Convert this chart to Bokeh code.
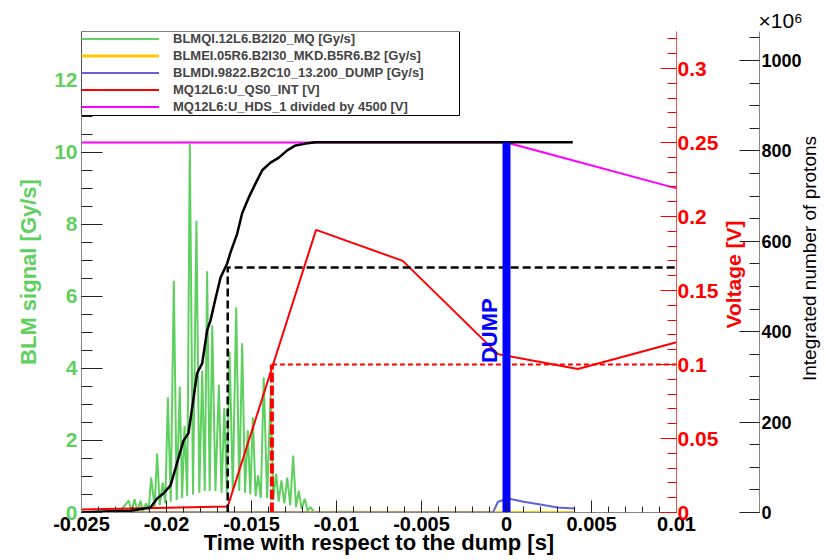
import numpy as np
from math import pi
from bokeh.plotting import figure
from bokeh.models import (Range1d, LinearAxis, FixedTicker, PrintfTickFormatter,
                          Legend, LegendItem, Label, Title, BoxAnnotation)
from bokeh.embed import file_html
from bokeh.resources import INLINE

# ---------------- data ----------------
blmqi_t = [-0.0250, -0.0228, -0.02222, -0.02205, -0.02188, -0.0217, -0.02153, -0.0214,
           -0.0212, -0.02105, -0.0209, -0.0207, -0.02055, -0.0204, -0.02022, -0.02007,
           -0.01992, -0.01975, -0.01957, -0.0194, -0.01922, -0.01908, -0.01894, -0.01878,
           -0.01863, -0.01844, -0.01824, -0.01807, -0.0179, -0.01775, -0.01761, -0.01746,
           -0.01731, -0.01712, -0.01692, -0.01676, -0.0166, -0.01645, -0.01629, -0.0161,
           -0.0159, -0.01572, -0.01555, -0.01538, -0.01522, -0.01507, -0.01492, -0.01476,
           -0.01461, -0.01445, -0.01428, -0.01408, -0.01388, -0.01372, -0.01355, -0.0134,
           -0.01324, -0.01307, -0.0129, -0.01272, -0.01255, -0.01238, -0.01222, -0.01205,
           -0.01187, -0.0117, -0.01153, -0.0113, -0.0100, 0.004]
blmqi_v = [0.0, 0.0, 0.33, 0.02, 0.37, 0.03, 0.33, 0.05,
           0.25, 0.08, 0.97, 0.15, 1.64, 0.2, 0.83, 0.25,
           3.2, 0.3, 6.44, 0.35, 3.5, 0.4, 2.4, 0.45,
           10.25, 0.5, 8.1, 0.55, 3.94, 0.6, 6.7, 0.6,
           5.2, 0.6, 3.55, 0.55, 2.9, 0.55, 4.47, 0.6,
           5.7, 0.6, 4.7, 0.55, 2.28, 0.5, 2.64, 0.45,
           1.03, 0.4, 3.75, 0.4, 3.25, 0.35, 1.08, 0.3,
           0.89, 0.25, 0.97, 0.2, 1.58, 0.15, 0.6, 0.1,
           0.38, 0.05, 0.15, 0.0, 0.02, 0.0]

blmei_t = [-0.025, 0.004]
blmei_v = [0.0, 0.0]

blmdi_t = [-0.025, -0.0008, -0.0005, 0.0001, 0.001, 0.002, 0.003, 0.004]
blmdi_v = [0.0, 0.0, 0.30, 0.39, 0.30, 0.22, 0.14, 0.11]

qs0_t = [-0.025, -0.0164, -0.0112, -0.0061, -0.0005, 0.0042, 0.010]
qs0_v = [0.002, 0.004, 0.191, 0.170, 0.107, 0.097, 0.115]

hds_t = [-0.025, 0.0, 0.010]
hds_v = [0.25, 0.25, 0.219]

protons_t = [-0.025, -0.02329, -0.02212, -0.02094, -0.02055, -0.02018, -0.01976,
             -0.01937, -0.019, -0.01871, -0.01849, -0.0182, -0.0179, -0.01761,
             -0.01741, -0.01712, -0.01682, -0.01643, -0.01624, -0.01584, -0.01555,
             -0.01516, -0.01476, -0.01437, -0.01388, -0.01339, -0.0129, -0.01241,
             -0.01182, -0.01124, 0.0039]
protons_n = [0, 3, 4, 11, 31, 42, 60, 111, 159, 175, 232, 308, 330, 403, 425, 473,
             520, 551, 575, 617, 662, 697, 728, 757, 774, 785, 801, 812, 816, 819, 819]

mark_t = -0.0164          # time of the black dashed marker
mark_n = 542              # protons (x1e6) at the marker
volt_mark_t = -0.0138     # time of the red dashed marker
volt_mark_v = 0.1
dump_t = 0.0
dump_top_v = 0.25
dump_text_v = 0.101

x_ticks = [-0.025, -0.02, -0.015, -0.01, -0.005, 0.0, 0.005, 0.01]
blm_ticks = [0, 2, 4, 6, 8, 10, 12]
volt_ticks = [0, 0.05, 0.1, 0.15, 0.2, 0.25, 0.3]
prot_ticks = [0, 200, 400, 600, 800, 1000]

labels = ["BLMQI.12L6.B2I20_MQ [Gy/s]",
          "BLMEI.05R6.B2I30_MKD.B5R6.B2 [Gy/s]",
          "BLMDI.9822.B2C10_13.200_DUMP [Gy/s]",
          "MQ12L6:U_QS0_INT [V]",
          "MQ12L6:U_HDS_1 divided by 4500 [V]"]

# ---------------- styling ----------------
FONT = "Liberation Sans"
GREEN = "#5fd05f"
YELLOW = "#ffc800"
SLATE = "#6262da"
RED = "#ff0000"
MAGENTA = "#ff00ff"

p = figure(width=826, height=560, x_range=Range1d(-0.025, 0.01), y_range=Range1d(0, 13.36),
           output_backend="svg", toolbar_location=None,
           min_border_left=81, min_border_right=150, min_border_top=31, min_border_bottom=48)
p.extra_y_ranges = {"volt": Range1d(0, 0.325), "prot": Range1d(0, 1064)}
p.xgrid.visible = False
p.ygrid.visible = False
p.outline_line_color = None
p.background_fill_color = "white"
p.border_fill_color = "white"

def style(ax, color, line_color, tick_color, tin, tmin, fsize):
    ax.major_tick_in = tin
    ax.major_tick_out = 0
    ax.minor_tick_in = tmin
    ax.minor_tick_out = 0
    ax.axis_line_color = line_color
    ax.major_tick_line_color = tick_color
    ax.minor_tick_line_color = tick_color
    ax.major_label_text_color = color
    ax.major_label_text_font = FONT
    ax.major_label_text_font_style = "bold"
    ax.major_label_text_font_size = fsize
    ax.axis_label_text_font = FONT
    ax.axis_label_text_font_style = "bold"
    ax.axis_label_text_color = color
    ax.formatter = PrintfTickFormatter(format="%g")

def spacer_axis(range_name, tick_value, gap):
    """Invisible axis that only reserves a gap between two right-hand axes."""
    return LinearAxis(y_range_name=range_name, ticker=FixedTicker(ticks=[tick_value]),
                      major_label_overrides={tick_value: ""}, axis_line_color=None,
                      major_tick_out=gap, major_tick_in=0, minor_tick_out=0,
                      minor_tick_in=0, major_tick_line_color=None,
                      minor_tick_line_color=None, major_label_standoff=0)

xa = p.xaxis[0]
xa.ticker = FixedTicker(ticks=x_ticks, minor_ticks=list(np.round(np.arange(-0.025, 0.0101, 0.001), 4)))
style(xa, "black", "#888888", "#222222", 12, 6, "20px")
xa.major_label_standoff = 4
xa.axis_label = "Time with respect to the dump [s]"
xa.axis_label_text_font_size = "22px"
xa.axis_label_standoff = -4

ya = p.yaxis[0]
ya.ticker = FixedTicker(ticks=blm_ticks, minor_ticks=list(np.arange(0, 13.36, 0.5)))
style(ya, GREEN, "#888888", "#222222", 21, 11, "21px")
ya.major_label_standoff = 4
ya.axis_label = "BLM signal [Gy/s]"
ya.axis_label_text_font_size = "22px"
ya.axis_label_standoff = 10

va = LinearAxis(y_range_name="volt")
va.ticker = FixedTicker(ticks=volt_ticks, minor_ticks=list(np.round(np.arange(0, 0.325, 0.01), 3)))
style(va, RED, "#ff5050", RED, 16, 9, "21px")
va.major_label_standoff = 1
p.add_layout(va, "right")

# rotated titles of the right-hand axes, laid out in their own side slots
volt_title = Label(x=12, y=238, x_units="screen", y_units="screen", text="Voltage [V]",
                   angle=pi / 2, text_align="center", text_baseline="middle",
                   text_color=RED, text_font=FONT, text_font_style="bold",
                   text_font_size="21px")
p.add_layout(volt_title, "right")
p.add_layout(spacer_axis("volt", 0, 15), "right")

pa = LinearAxis(y_range_name="prot")
pa.ticker = FixedTicker(ticks=prot_ticks, minor_ticks=list(np.arange(0, 1064, 50)))
style(pa, "black", "#888888", "#222222", 20, 10, "18px")
pa.major_label_standoff = 2
p.add_layout(pa, "right")

prot_title = Label(x=5, y=254, x_units="screen", y_units="screen",
                   text="Integrated number of protons", angle=pi / 2,
                   text_align="center", text_baseline="middle", text_color="black",
                   text_font=FONT, text_font_style="normal", text_font_size="19px")
p.add_layout(prot_title, "right")

# exponent of the proton axis
p.add_layout(Title(text="×10⁶", align="left", offset=677, standoff=0,
                   text_font=FONT, text_font_style="normal", text_font_size="21px",
                   text_color="black"), "above")

# ---------------- series ----------------
r_green = p.line(blmqi_t, blmqi_v, line_color=GREEN, line_width=2)
r_yellow = p.line(blmei_t, blmei_v, line_color=YELLOW, line_width=3)
r_blue = p.line(blmdi_t, blmdi_v, line_color=SLATE, line_width=2)
r_red = p.line(qs0_t, qs0_v, line_color=RED, line_width=2, y_range_name="volt")
r_mag = p.line(hds_t, hds_v, line_color=MAGENTA, line_width=2, y_range_name="volt")

p.line(protons_t, protons_n, line_color="black", line_width=2.5, y_range_name="prot")

# marker lines
p.line([mark_t, mark_t, x_ticks[-1]], [0, mark_n, mark_n], line_color="black",
       line_width=2.5, line_dash="8 4", y_range_name="prot")
p.line([volt_mark_t, volt_mark_t], [0, volt_mark_v], line_color=RED, line_width=4,
       line_dash="10 3", y_range_name="volt")
p.line([volt_mark_t, x_ticks[-1]], [volt_mark_v, volt_mark_v], line_color=RED,
       line_width=2, line_dash="5 3", y_range_name="volt")

p.segment(x0=[dump_t], y0=[0], x1=[dump_t], y1=[dump_top_v], line_color="#0000ff",
          line_width=8, y_range_name="volt")
p.add_layout(Label(x=dump_t, y=dump_text_v, y_range_name="volt", x_offset=-17, text="DUMP",
                   angle=pi / 2, text_align="left", text_baseline="middle",
                   text_color="#0000ff", text_font=FONT, text_font_style="bold",
                   text_font_size="22px"))

# legend frame (wider than the automatic legend box, as in the reference)
p.add_layout(BoxAnnotation(left=0, right=378, top=481, bottom=397,
                           left_units="screen", right_units="screen",
                           top_units="screen", bottom_units="screen",
                           fill_color="white", fill_alpha=1.0,
                           line_color="black", line_width=1, line_alpha=1.0))

legend = Legend(items=[LegendItem(label=labels[0], renderers=[r_green]),
                       LegendItem(label=labels[1], renderers=[r_yellow]),
                       LegendItem(label=labels[2], renderers=[r_blue]),
                       LegendItem(label=labels[3], renderers=[r_red]),
                       LegendItem(label=labels[4], renderers=[r_mag])],
                location="top_left", margin=0, padding=2, spacing=2,
                label_height=13, glyph_height=13, glyph_width=78, label_standoff=14,
                label_text_font=FONT, label_text_font_style="bold",
                label_text_font_size="13px", border_line_color=None,
                background_fill_alpha=0.0)
p.add_layout(legend)

open("out.html", "w").write(file_html(p, INLINE))
